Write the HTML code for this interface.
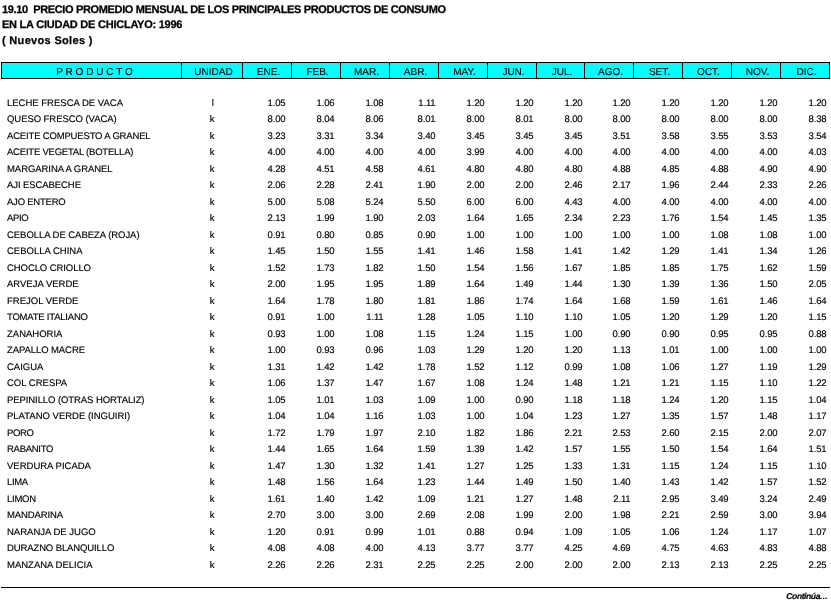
<!DOCTYPE html>
<html><head><meta charset="utf-8"><title>19.10 Precio promedio mensual - Chiclayo 1996</title>
<style>
html,body{margin:0;padding:0;background:#fff;}
body{width:831px;height:604px;position:relative;overflow:hidden;text-rendering:geometricPrecision;font-family:"Liberation Sans",Arial,sans-serif;color:#000;}
.t{position:absolute;left:2px;font-weight:bold;font-size:11px;line-height:13px;white-space:pre;-webkit-text-stroke:0.25px #000;}

.n{letter-spacing:-0.15px;}
.h{position:absolute;top:62px;-webkit-text-stroke:0.15px #000;height:17px;box-sizing:border-box;border:1px solid #000;background:#0ff;font-size:10px;line-height:19px;text-align:center;white-space:pre;}
.r{position:absolute;left:0;width:831px;-webkit-text-stroke:0.15px #000;height:12px;font-size:9.5px;line-height:12px;white-space:pre;}
.r span{position:absolute;top:0;}
.p{left:7px;}
.u{left:181px;width:62px;text-align:center;}
.n{text-align:right;}
.d{letter-spacing:0.3px;}
.ln{position:absolute;left:1px;top:587px;width:829px;height:1px;background:#000;}
.c{position:absolute;right:3px;top:592px;font-size:8.5px;line-height:8.5px;font-weight:bold;font-style:italic;white-space:pre;letter-spacing:-0.4px;-webkit-text-stroke:0.2px #000;}
</style></head><body>
<div class="t" style="top:4px;letter-spacing:-0.35px">19.10  PRECIO PROMEDIO MENSUAL DE LOS PRINCIPALES PRODUCTOS DE CONSUMO</div>
<div class="t" style="top:19px;letter-spacing:-0.24px">EN LA CIUDAD DE CHICLAYO: 1996</div>
<div class="t" style="top:35px;letter-spacing:0.32px">( Nuevos Soles )</div>
<div class="h" style="left:1px;width:181px;letter-spacing:0.03px;padding-left:6px">P R O D U C T O</div>
<div class="h" style="left:181px;width:62px;padding-left:3px">UNIDAD</div>
<div class="h" style="left:242px;width:50px;padding-left:3px">ENE.</div>
<div class="h" style="left:291px;width:50px;padding-left:3px">FEB.</div>
<div class="h" style="left:340px;width:50px;padding-left:3px">MAR.</div>
<div class="h" style="left:389px;width:50px;padding-left:3px">ABR.</div>
<div class="h" style="left:438px;width:50px;padding-left:3px">MAY.</div>
<div class="h" style="left:487px;width:50px;padding-left:3px">JUN.</div>
<div class="h" style="left:536px;width:49px;padding-left:3px">JUL.</div>
<div class="h" style="left:584px;width:50px;padding-left:3px">AGO.</div>
<div class="h" style="left:633px;width:50px;padding-left:3px">SET.</div>
<div class="h" style="left:682px;width:50px;padding-left:3px">OCT.</div>
<div class="h" style="left:731px;width:50px;padding-left:3px">NOV.</div>
<div class="h" style="left:780px;width:50px;padding-left:3px">DIC.</div>
<div class="r" style="top:98px"><span class="p" style="letter-spacing:0.000px">LECHE FRESCA DE VACA</span><span class="u" style="padding-left:0.9px">l</span><span class="n" style="right:545.5px">1.05</span><span class="n" style="right:496.5px">1.06</span><span class="n" style="right:447.5px">1.08</span><span class="n" style="right:395.5px">1.11</span><span class="n" style="right:346.5px">1.20</span><span class="n" style="right:297.5px">1.20</span><span class="n" style="right:248.5px">1.20</span><span class="n" style="right:200.5px">1.20</span><span class="n" style="right:151.5px">1.20</span><span class="n" style="right:102.5px">1.20</span><span class="n" style="right:53.5px">1.20</span><span class="n" style="right:4.5px">1.20</span></div>
<div class="r" style="top:114px"><span class="p" style="letter-spacing:-0.056px">QUESO FRESCO (VACA)</span><span class="u">k</span><span class="n" style="right:545.5px">8.00</span><span class="n" style="right:496.5px">8.04</span><span class="n" style="right:447.5px">8.06</span><span class="n" style="right:395.5px">8.01</span><span class="n" style="right:346.5px">8.00</span><span class="n" style="right:297.5px">8.01</span><span class="n" style="right:248.5px">8.00</span><span class="n" style="right:200.5px">8.00</span><span class="n" style="right:151.5px">8.00</span><span class="n" style="right:102.5px">8.00</span><span class="n" style="right:53.5px">8.00</span><span class="n" style="right:4.5px">8.38</span></div>
<div class="r" style="top:131px"><span class="p" style="letter-spacing:-0.167px">ACEITE COMPUESTO A GRANEL</span><span class="u">k</span><span class="n" style="right:545.5px">3.23</span><span class="n" style="right:496.5px">3.31</span><span class="n" style="right:447.5px">3.34</span><span class="n" style="right:395.5px">3.40</span><span class="n" style="right:346.5px">3.45</span><span class="n" style="right:297.5px">3.45</span><span class="n" style="right:248.5px">3.45</span><span class="n" style="right:200.5px">3.51</span><span class="n" style="right:151.5px">3.58</span><span class="n" style="right:102.5px">3.55</span><span class="n" style="right:53.5px">3.53</span><span class="n" style="right:4.5px">3.54</span></div>
<div class="r" style="top:147px"><span class="p" style="letter-spacing:-0.217px">ACEITE VEGETAL (BOTELLA)</span><span class="u">k</span><span class="n" style="right:545.5px">4.00</span><span class="n" style="right:496.5px">4.00</span><span class="n" style="right:447.5px">4.00</span><span class="n" style="right:395.5px">4.00</span><span class="n" style="right:346.5px">3.99</span><span class="n" style="right:297.5px">4.00</span><span class="n" style="right:248.5px">4.00</span><span class="n" style="right:200.5px">4.00</span><span class="n" style="right:151.5px">4.00</span><span class="n" style="right:102.5px">4.00</span><span class="n" style="right:53.5px">4.00</span><span class="n" style="right:4.5px">4.03</span></div>
<div class="r" style="top:164px"><span class="p" style="letter-spacing:-0.059px">MARGARINA A GRANEL</span><span class="u">k</span><span class="n" style="right:545.5px">4.28</span><span class="n" style="right:496.5px">4.51</span><span class="n" style="right:447.5px">4.58</span><span class="n" style="right:395.5px">4.61</span><span class="n" style="right:346.5px">4.80</span><span class="n" style="right:297.5px">4.80</span><span class="n" style="right:248.5px">4.80</span><span class="n" style="right:200.5px">4.88</span><span class="n" style="right:151.5px">4.85</span><span class="n" style="right:102.5px">4.88</span><span class="n" style="right:53.5px">4.90</span><span class="n" style="right:4.5px">4.90</span></div>
<div class="r" style="top:180px"><span class="p" style="letter-spacing:-0.083px">AJI ESCABECHE</span><span class="u">k</span><span class="n" style="right:545.5px">2.06</span><span class="n" style="right:496.5px">2.28</span><span class="n" style="right:447.5px">2.41</span><span class="n" style="right:395.5px">1.90</span><span class="n" style="right:346.5px">2.00</span><span class="n" style="right:297.5px">2.00</span><span class="n" style="right:248.5px">2.46</span><span class="n" style="right:200.5px">2.17</span><span class="n" style="right:151.5px">1.96</span><span class="n" style="right:102.5px">2.44</span><span class="n" style="right:53.5px">2.33</span><span class="n" style="right:4.5px">2.26</span></div>
<div class="r" style="top:197px"><span class="p" style="letter-spacing:-0.222px">AJO ENTERO</span><span class="u">k</span><span class="n" style="right:545.5px">5.00</span><span class="n" style="right:496.5px">5.08</span><span class="n" style="right:447.5px">5.24</span><span class="n" style="right:395.5px">5.50</span><span class="n" style="right:346.5px">6.00</span><span class="n" style="right:297.5px">6.00</span><span class="n" style="right:248.5px">4.43</span><span class="n" style="right:200.5px">4.00</span><span class="n" style="right:151.5px">4.00</span><span class="n" style="right:102.5px">4.00</span><span class="n" style="right:53.5px">4.00</span><span class="n" style="right:4.5px">4.00</span></div>
<div class="r" style="top:213px"><span class="p" style="letter-spacing:-0.333px">APIO</span><span class="u">k</span><span class="n" style="right:545.5px">2.13</span><span class="n" style="right:496.5px">1.99</span><span class="n" style="right:447.5px">1.90</span><span class="n" style="right:395.5px">2.03</span><span class="n" style="right:346.5px">1.64</span><span class="n" style="right:297.5px">1.65</span><span class="n" style="right:248.5px">2.34</span><span class="n" style="right:200.5px">2.23</span><span class="n" style="right:151.5px">1.76</span><span class="n" style="right:102.5px">1.54</span><span class="n" style="right:53.5px">1.45</span><span class="n" style="right:4.5px">1.35</span></div>
<div class="r" style="top:230px"><span class="p" style="letter-spacing:-0.043px">CEBOLLA DE CABEZA (ROJA)</span><span class="u">k</span><span class="n" style="right:545.5px">0.91</span><span class="n" style="right:496.5px">0.80</span><span class="n" style="right:447.5px">0.85</span><span class="n" style="right:395.5px">0.90</span><span class="n" style="right:346.5px">1.00</span><span class="n" style="right:297.5px">1.00</span><span class="n" style="right:248.5px">1.00</span><span class="n" style="right:200.5px">1.00</span><span class="n" style="right:151.5px">1.00</span><span class="n" style="right:102.5px">1.08</span><span class="n" style="right:53.5px">1.08</span><span class="n" style="right:4.5px">1.00</span></div>
<div class="r" style="top:246px"><span class="p" style="letter-spacing:0.000px">CEBOLLA CHINA</span><span class="u">k</span><span class="n" style="right:545.5px">1.45</span><span class="n" style="right:496.5px">1.50</span><span class="n" style="right:447.5px">1.55</span><span class="n" style="right:395.5px">1.41</span><span class="n" style="right:346.5px">1.46</span><span class="n" style="right:297.5px">1.58</span><span class="n" style="right:248.5px">1.41</span><span class="n" style="right:200.5px">1.42</span><span class="n" style="right:151.5px">1.29</span><span class="n" style="right:102.5px">1.41</span><span class="n" style="right:53.5px">1.34</span><span class="n" style="right:4.5px">1.26</span></div>
<div class="r" style="top:263px"><span class="p" style="letter-spacing:-0.077px">CHOCLO CRIOLLO</span><span class="u">k</span><span class="n" style="right:545.5px">1.52</span><span class="n" style="right:496.5px">1.73</span><span class="n" style="right:447.5px">1.82</span><span class="n" style="right:395.5px">1.50</span><span class="n" style="right:346.5px">1.54</span><span class="n" style="right:297.5px">1.56</span><span class="n" style="right:248.5px">1.67</span><span class="n" style="right:200.5px">1.85</span><span class="n" style="right:151.5px">1.85</span><span class="n" style="right:102.5px">1.75</span><span class="n" style="right:53.5px">1.62</span><span class="n" style="right:4.5px">1.59</span></div>
<div class="r" style="top:279px"><span class="p" style="letter-spacing:0.000px">ARVEJA VERDE</span><span class="u">k</span><span class="n" style="right:545.5px">2.00</span><span class="n" style="right:496.5px">1.95</span><span class="n" style="right:447.5px">1.95</span><span class="n" style="right:395.5px">1.89</span><span class="n" style="right:346.5px">1.64</span><span class="n" style="right:297.5px">1.49</span><span class="n" style="right:248.5px">1.44</span><span class="n" style="right:200.5px">1.30</span><span class="n" style="right:151.5px">1.39</span><span class="n" style="right:102.5px">1.36</span><span class="n" style="right:53.5px">1.50</span><span class="n" style="right:4.5px">2.05</span></div>
<div class="r" style="top:296px"><span class="p" style="letter-spacing:0.000px">FREJOL VERDE</span><span class="u">k</span><span class="n" style="right:545.5px">1.64</span><span class="n" style="right:496.5px">1.78</span><span class="n" style="right:447.5px">1.80</span><span class="n" style="right:395.5px">1.81</span><span class="n" style="right:346.5px">1.86</span><span class="n" style="right:297.5px">1.74</span><span class="n" style="right:248.5px">1.64</span><span class="n" style="right:200.5px">1.68</span><span class="n" style="right:151.5px">1.59</span><span class="n" style="right:102.5px">1.61</span><span class="n" style="right:53.5px">1.46</span><span class="n" style="right:4.5px">1.64</span></div>
<div class="r" style="top:312px"><span class="p" style="letter-spacing:-0.214px">TOMATE ITALIANO</span><span class="u">k</span><span class="n" style="right:545.5px">0.91</span><span class="n" style="right:496.5px">1.00</span><span class="n" style="right:447.5px">1.11</span><span class="n" style="right:395.5px">1.28</span><span class="n" style="right:346.5px">1.05</span><span class="n" style="right:297.5px">1.10</span><span class="n" style="right:248.5px">1.10</span><span class="n" style="right:200.5px">1.05</span><span class="n" style="right:151.5px">1.20</span><span class="n" style="right:102.5px">1.29</span><span class="n" style="right:53.5px">1.20</span><span class="n" style="right:4.5px">1.15</span></div>
<div class="r" style="top:329px"><span class="p" style="letter-spacing:0.000px">ZANAHORIA</span><span class="u">k</span><span class="n" style="right:545.5px">0.93</span><span class="n" style="right:496.5px">1.00</span><span class="n" style="right:447.5px">1.08</span><span class="n" style="right:395.5px">1.15</span><span class="n" style="right:346.5px">1.24</span><span class="n" style="right:297.5px">1.15</span><span class="n" style="right:248.5px">1.00</span><span class="n" style="right:200.5px">0.90</span><span class="n" style="right:151.5px">0.90</span><span class="n" style="right:102.5px">0.95</span><span class="n" style="right:53.5px">0.95</span><span class="n" style="right:4.5px">0.88</span></div>
<div class="r" style="top:345px"><span class="p" style="letter-spacing:-0.083px">ZAPALLO MACRE</span><span class="u">k</span><span class="n" style="right:545.5px">1.00</span><span class="n" style="right:496.5px">0.93</span><span class="n" style="right:447.5px">0.96</span><span class="n" style="right:395.5px">1.03</span><span class="n" style="right:346.5px">1.29</span><span class="n" style="right:297.5px">1.20</span><span class="n" style="right:248.5px">1.20</span><span class="n" style="right:200.5px">1.13</span><span class="n" style="right:151.5px">1.01</span><span class="n" style="right:102.5px">1.00</span><span class="n" style="right:53.5px">1.00</span><span class="n" style="right:4.5px">1.00</span></div>
<div class="r" style="top:362px"><span class="p" style="letter-spacing:0.000px">CAIGUA</span><span class="u">k</span><span class="n" style="right:545.5px">1.31</span><span class="n" style="right:496.5px">1.42</span><span class="n" style="right:447.5px">1.42</span><span class="n" style="right:395.5px">1.78</span><span class="n" style="right:346.5px">1.52</span><span class="n" style="right:297.5px">1.12</span><span class="n" style="right:248.5px">0.99</span><span class="n" style="right:200.5px">1.08</span><span class="n" style="right:151.5px">1.06</span><span class="n" style="right:102.5px">1.27</span><span class="n" style="right:53.5px">1.19</span><span class="n" style="right:4.5px">1.29</span></div>
<div class="r" style="top:378px"><span class="p" style="letter-spacing:0.000px">COL CRESPA</span><span class="u">k</span><span class="n" style="right:545.5px">1.06</span><span class="n" style="right:496.5px">1.37</span><span class="n" style="right:447.5px">1.47</span><span class="n" style="right:395.5px">1.67</span><span class="n" style="right:346.5px">1.08</span><span class="n" style="right:297.5px">1.24</span><span class="n" style="right:248.5px">1.48</span><span class="n" style="right:200.5px">1.21</span><span class="n" style="right:151.5px">1.21</span><span class="n" style="right:102.5px">1.15</span><span class="n" style="right:53.5px">1.10</span><span class="n" style="right:4.5px">1.22</span></div>
<div class="r" style="top:395px"><span class="p" style="letter-spacing:-0.080px">PEPINILLO (OTRAS HORTALIZ)</span><span class="u">k</span><span class="n" style="right:545.5px">1.05</span><span class="n" style="right:496.5px">1.01</span><span class="n" style="right:447.5px">1.03</span><span class="n" style="right:395.5px">1.09</span><span class="n" style="right:346.5px">1.00</span><span class="n" style="right:297.5px">0.90</span><span class="n" style="right:248.5px">1.18</span><span class="n" style="right:200.5px">1.18</span><span class="n" style="right:151.5px">1.24</span><span class="n" style="right:102.5px">1.20</span><span class="n" style="right:53.5px">1.15</span><span class="n" style="right:4.5px">1.04</span></div>
<div class="r" style="top:411px"><span class="p" style="letter-spacing:0.000px">PLATANO VERDE (INGUIRI)</span><span class="u">k</span><span class="n" style="right:545.5px">1.04</span><span class="n" style="right:496.5px">1.04</span><span class="n" style="right:447.5px">1.16</span><span class="n" style="right:395.5px">1.03</span><span class="n" style="right:346.5px">1.00</span><span class="n" style="right:297.5px">1.04</span><span class="n" style="right:248.5px">1.23</span><span class="n" style="right:200.5px">1.27</span><span class="n" style="right:151.5px">1.35</span><span class="n" style="right:102.5px">1.57</span><span class="n" style="right:53.5px">1.48</span><span class="n" style="right:4.5px">1.17</span></div>
<div class="r" style="top:428px"><span class="p" style="letter-spacing:-0.333px">PORO</span><span class="u">k</span><span class="n" style="right:545.5px">1.72</span><span class="n" style="right:496.5px">1.79</span><span class="n" style="right:447.5px">1.97</span><span class="n" style="right:395.5px">2.10</span><span class="n" style="right:346.5px">1.82</span><span class="n" style="right:297.5px">1.86</span><span class="n" style="right:248.5px">2.21</span><span class="n" style="right:200.5px">2.53</span><span class="n" style="right:151.5px">2.60</span><span class="n" style="right:102.5px">2.15</span><span class="n" style="right:53.5px">2.00</span><span class="n" style="right:4.5px">2.07</span></div>
<div class="r" style="top:444px"><span class="p" style="letter-spacing:-0.286px">RABANITO</span><span class="u">k</span><span class="n" style="right:545.5px">1.44</span><span class="n" style="right:496.5px">1.65</span><span class="n" style="right:447.5px">1.64</span><span class="n" style="right:395.5px">1.59</span><span class="n" style="right:346.5px">1.39</span><span class="n" style="right:297.5px">1.42</span><span class="n" style="right:248.5px">1.57</span><span class="n" style="right:200.5px">1.55</span><span class="n" style="right:151.5px">1.50</span><span class="n" style="right:102.5px">1.54</span><span class="n" style="right:53.5px">1.64</span><span class="n" style="right:4.5px">1.51</span></div>
<div class="r" style="top:461px"><span class="p" style="letter-spacing:0.000px">VERDURA PICADA</span><span class="u">k</span><span class="n" style="right:545.5px">1.47</span><span class="n" style="right:496.5px">1.30</span><span class="n" style="right:447.5px">1.32</span><span class="n" style="right:395.5px">1.41</span><span class="n" style="right:346.5px">1.27</span><span class="n" style="right:297.5px">1.25</span><span class="n" style="right:248.5px">1.33</span><span class="n" style="right:200.5px">1.31</span><span class="n" style="right:151.5px">1.15</span><span class="n" style="right:102.5px">1.24</span><span class="n" style="right:53.5px">1.15</span><span class="n" style="right:4.5px">1.10</span></div>
<div class="r" style="top:477px"><span class="p" style="letter-spacing:-0.333px">LIMA</span><span class="u">k</span><span class="n" style="right:545.5px">1.48</span><span class="n" style="right:496.5px">1.56</span><span class="n" style="right:447.5px">1.64</span><span class="n" style="right:395.5px">1.23</span><span class="n" style="right:346.5px">1.44</span><span class="n" style="right:297.5px">1.49</span><span class="n" style="right:248.5px">1.50</span><span class="n" style="right:200.5px">1.40</span><span class="n" style="right:151.5px">1.43</span><span class="n" style="right:102.5px">1.42</span><span class="n" style="right:53.5px">1.57</span><span class="n" style="right:4.5px">1.52</span></div>
<div class="r" style="top:494px"><span class="p" style="letter-spacing:-0.250px">LIMON</span><span class="u">k</span><span class="n" style="right:545.5px">1.61</span><span class="n" style="right:496.5px">1.40</span><span class="n" style="right:447.5px">1.42</span><span class="n" style="right:395.5px">1.09</span><span class="n" style="right:346.5px">1.21</span><span class="n" style="right:297.5px">1.27</span><span class="n" style="right:248.5px">1.48</span><span class="n" style="right:200.5px">2.11</span><span class="n" style="right:151.5px">2.95</span><span class="n" style="right:102.5px">3.49</span><span class="n" style="right:53.5px">3.24</span><span class="n" style="right:4.5px">2.49</span></div>
<div class="r" style="top:510px"><span class="p" style="letter-spacing:-0.125px">MANDARINA</span><span class="u">k</span><span class="n" style="right:545.5px">2.70</span><span class="n" style="right:496.5px">3.00</span><span class="n" style="right:447.5px">3.00</span><span class="n" style="right:395.5px">2.69</span><span class="n" style="right:346.5px">2.08</span><span class="n" style="right:297.5px">1.99</span><span class="n" style="right:248.5px">2.00</span><span class="n" style="right:200.5px">1.98</span><span class="n" style="right:151.5px">2.21</span><span class="n" style="right:102.5px">2.59</span><span class="n" style="right:53.5px">3.00</span><span class="n" style="right:4.5px">3.94</span></div>
<div class="r" style="top:527px"><span class="p" style="letter-spacing:0.000px">NARANJA DE JUGO</span><span class="u">k</span><span class="n" style="right:545.5px">1.20</span><span class="n" style="right:496.5px">0.91</span><span class="n" style="right:447.5px">0.99</span><span class="n" style="right:395.5px">1.01</span><span class="n" style="right:346.5px">0.88</span><span class="n" style="right:297.5px">0.94</span><span class="n" style="right:248.5px">1.09</span><span class="n" style="right:200.5px">1.05</span><span class="n" style="right:151.5px">1.06</span><span class="n" style="right:102.5px">1.24</span><span class="n" style="right:53.5px">1.17</span><span class="n" style="right:4.5px">1.07</span></div>
<div class="r" style="top:543px"><span class="p" style="letter-spacing:-0.118px">DURAZNO BLANQUILLO</span><span class="u">k</span><span class="n" style="right:545.5px">4.08</span><span class="n" style="right:496.5px">4.08</span><span class="n" style="right:447.5px">4.00</span><span class="n" style="right:395.5px">4.13</span><span class="n" style="right:346.5px">3.77</span><span class="n" style="right:297.5px">3.77</span><span class="n" style="right:248.5px">4.25</span><span class="n" style="right:200.5px">4.69</span><span class="n" style="right:151.5px">4.75</span><span class="n" style="right:102.5px">4.63</span><span class="n" style="right:53.5px">4.83</span><span class="n" style="right:4.5px">4.88</span></div>
<div class="r" style="top:560px"><span class="p" style="letter-spacing:0.000px">MANZANA DELICIA</span><span class="u">k</span><span class="n" style="right:545.5px">2.26</span><span class="n" style="right:496.5px">2.26</span><span class="n" style="right:447.5px">2.31</span><span class="n" style="right:395.5px">2.25</span><span class="n" style="right:346.5px">2.25</span><span class="n" style="right:297.5px">2.00</span><span class="n" style="right:248.5px">2.00</span><span class="n" style="right:200.5px">2.00</span><span class="n" style="right:151.5px">2.13</span><span class="n" style="right:102.5px">2.13</span><span class="n" style="right:53.5px">2.25</span><span class="n" style="right:4.5px">2.25</span></div>
<div class="ln"></div>
<div class="c">Continúa<span class="d">...</span></div>
</body></html>
